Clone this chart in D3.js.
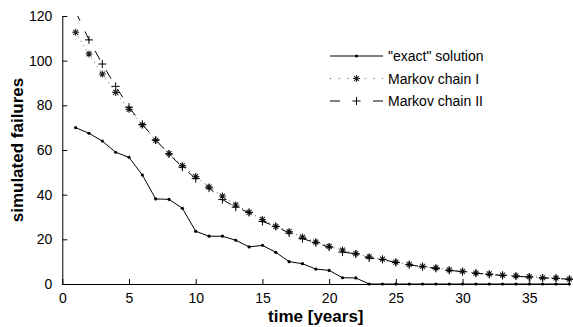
<!DOCTYPE html>
<html>
<head>
<meta charset="utf-8">
<script src="https://cdn.jsdelivr.net/npm/d3@7"></script>
<style>
  html, body { margin: 0; padding: 0; background: #fff; }
  svg { display: block; font-family: "Liberation Sans", Arial, Helvetica, sans-serif; }
</style>
</head>
<body>
<svg id="chart" width="573" height="327"></svg>
<script>
const years = [1,2,3,4,5,6,7,8,9,10,11,12,13,14,15,16,17,18,19,20,21,22,23,24,25,26,27,28,29,30,31,32,33,34,35,36,37,38];
const exact = [70.0,67.5,64.0,59.0,56.7,48.8,38.1,37.9,33.9,23.6,21.4,21.4,19.6,16.6,17.3,14.2,10.0,9.1,6.7,6.1,2.8,2.7,0,0,0,0,0,0,0,0,0,0,0,0,0,0,0,0];
const markovI = [112.7,103.0,94.0,85.8,78.2,71.2,64.3,58.4,53.0,48.1,43.4,39.4,35.4,32.1,28.9,25.8,23.5,21.0,18.8,16.8,15.2,13.6,12.2,11.1,9.8,8.8,7.9,7.2,6.3,5.7,4.9,4.5,4.0,3.6,3.3,2.8,2.7,2.2];
const markovII = [122.0,109.3,98.5,88.5,79.2,71.5,64.5,58.2,52.3,47.2,43.0,37.8,34.4,32.0,28.0,25.8,22.8,20.3,18.5,16.5,14.3,13.5,11.6,11.0,9.6,8.6,7.7,7.0,6.1,5.5,4.8,4.3,3.8,3.5,3.1,2.7,2.5,2.1];
const xTicks = [0,5,10,15,20,25,30,35];
const yTicks = [0,20,40,60,80,100,120];
const seriesNames = ['"exact" solution', 'Markov chain I', 'Markov chain II'];
const xLabel = "time [years]";
const yLabel = "simulated failures";

(function () {
const svg = d3.select("#chart");
const pL = 62.3, pR = 569.3, pT = 16, pB = 284;
const x = d3.scaleLinear().domain([0, 38]).range([pL, pR]);
const y = d3.scaleLinear().domain([0, 120]).range([pB, pT]);

svg.append("defs").append("clipPath").attr("id", "clip")
  .append("rect").attr("x", pL).attr("y", pT).attr("width", pR - pL + 5).attr("height", 327 - pT);

// axes
const xAxis = d3.axisBottom(x).tickValues(xTicks).tickSizeInner(-5).tickSizeOuter(0).tickPadding(9);
const yAxis = d3.axisLeft(y).tickValues(yTicks).tickSizeInner(-5).tickSizeOuter(0).tickPadding(10);
const gx = svg.append("g").attr("transform", `translate(0,${pB})`).call(xAxis);
const gy = svg.append("g").attr("transform", `translate(${pL},0)`).call(yAxis);
[gx, gy].forEach(g => {
  g.selectAll("path.domain").attr("stroke", "#000").attr("stroke-width", 1);
  g.selectAll(".tick line").attr("stroke", "#000").attr("stroke-width", 1);
  g.selectAll(".tick text").attr("fill", "#000").attr("font-size", 14)
    .attr("font-family", '"Liberation Sans", Arial, Helvetica, sans-serif');
});

// labels
svg.append("text").attr("x", (pL + pR) / 2).attr("y", 322)
  .attr("text-anchor", "middle").attr("font-size", 17).attr("font-weight", "bold").text(xLabel);
svg.append("text").attr("transform", `translate(23,${(pT + pB) / 2}) rotate(-90)`)
  .attr("text-anchor", "middle").attr("font-size", 17).attr("font-weight", "bold").text(yLabel);

const line = d3.line().x((d, i) => x(years[i])).y(d => y(d));
const plot = svg.append("g");

plot.append("path").datum(markovI).attr("d", line).attr("fill", "none")
  .attr("stroke", "#555").attr("stroke-width", 1).attr("stroke-dasharray", "1,4");
plot.append("path").datum(markovII).attr("d", line).attr("fill", "none").attr("clip-path", "url(#clip)")
  .attr("stroke", "#000").attr("stroke-width", 1).attr("stroke-dasharray", "10,12");
plot.append("path").datum(exact).attr("d", line).attr("fill", "none")
  .attr("stroke", "#000").attr("stroke-width", 1);

function star(g, cx, cy, r) {
  const d = r * Math.SQRT1_2;
  g.append("path").attr("d",
    `M${cx - r},${cy}L${cx + r},${cy}M${cx},${cy - r}L${cx},${cy + r}` +
    `M${cx - d},${cy - d}L${cx + d},${cy + d}M${cx - d},${cy + d}L${cx + d},${cy - d}`)
    .attr("stroke", "#222").attr("stroke-width", 1.1).attr("fill", "none");
}
function plus(g, cx, cy, r) {
  g.append("path").attr("d", `M${cx - r},${cy}L${cx + r},${cy}M${cx},${cy - r}L${cx},${cy + r}`)
    .attr("stroke", "#000").attr("stroke-width", 1).attr("fill", "none");
}

const mk = plot.append("g");
markovI.forEach((v, i) => star(mk, x(years[i]), y(v), 3.5));
markovII.forEach((v, i) => { if (v <= 120) plus(mk, x(years[i]), y(v), 4); });
plot.append("g").selectAll("circle").data(exact).join("circle")
  .attr("cx", (d, i) => x(years[i])).attr("cy", d => y(d)).attr("r", 1.6).attr("fill", "#000");

// legend
const lg = svg.append("g");
const lx0 = 330, lx1 = 383, lxm = 356.5, ltx = 388;
const rows = [56, 78.5, 101];
lg.append("line").attr("x1", lx0).attr("x2", lx1).attr("y1", rows[0]).attr("y2", rows[0]).attr("stroke", "#000");
lg.append("circle").attr("cx", lxm).attr("cy", rows[0]).attr("r", 1.6).attr("fill", "#000");
lg.append("line").attr("x1", lx0).attr("x2", lx1).attr("y1", rows[1]).attr("y2", rows[1])
  .attr("stroke", "#555").attr("stroke-dasharray", "1,7.7");
star(lg, lxm, rows[1], 3.5);
lg.append("line").attr("x1", lx0).attr("x2", lx1).attr("y1", rows[2]).attr("y2", rows[2])
  .attr("stroke", "#000").attr("stroke-dasharray", "10,33");
plus(lg, lxm, rows[2], 4);
seriesNames.forEach((n, i) => {
  lg.append("text").attr("x", ltx).attr("y", rows[i] + 5).attr("font-size", 14).attr("fill", "#000").text(n);
});
})();
</script>
</body>
</html>
